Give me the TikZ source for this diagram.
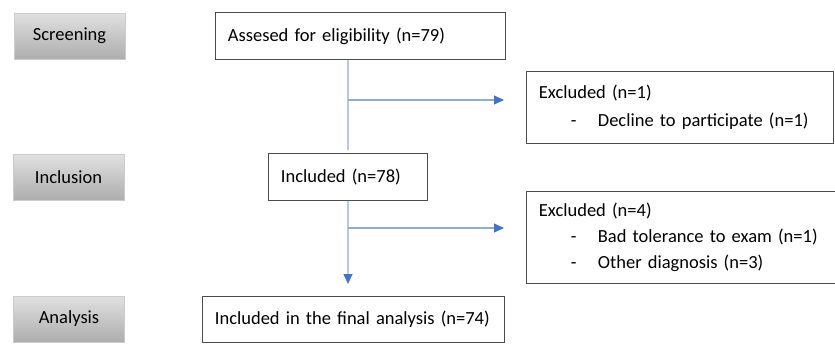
\documentclass[tikz,border=0pt]{standalone}
\usepackage{fontspec}
\setmainfont{Carlito}
\usetikzlibrary{arrows.meta}
\definecolor{linieblue}{HTML}{8FAADC}
\definecolor{tipblue}{HTML}{4472C4}
\tikzset{
    stage/.style={
           rectangle,
           draw=black!20, line width=0.6pt,
           top color=black!12, bottom color=black!32,
           minimum width=111pt,
           minimum height=46pt,
           font=\fontsize{18.5}{23}\selectfont},
    flowbox/.style={
           rectangle,
           draw=black!70, line width=0.8pt,
           inner xsep=12.5pt,
           align=left,
           font=\fontsize{18.5}{26}\selectfont},
    flowarrow/.style={
           linieblue, line width=1.2pt,
           -{Triangle[length=10pt,width=9pt,color=tipblue]}},
    flowline/.style={linieblue, line width=1.2pt}
    }
\begin{document}
\begin{tikzpicture}[x=1pt,y=-1pt]
      \useasboundingbox (0,0) rectangle (835,343);
      % stages on the left
      \node[stage] (scr) at (69.5,36) {Screening};
      \node[stage] (incl) at (68.5,177) {Inclusion};
      \node[stage] (ana) at (69,319) {Analysis};
      % flow boxes
      \node[flowbox, anchor=north west, text width=265pt, minimum height=47pt] (elig) at (215,12) {Assesed for eligibility (n=79)};
      \node[flowbox, anchor=north west, text width=134pt, minimum height=47pt] (inc) at (268,153) {Included (n=78)};
      \node[flowbox, anchor=north west, text width=277pt, minimum height=46pt] (fin) at (202,296) {Included in the final analysis (n=74)};
      \node[flowbox, anchor=north west, text width=282pt, minimum height=72pt] (exa) at (526,71)
           {Excluded (n=1)\\[2pt] \makebox[59pt][l]{\hspace{32pt}-}Decline to participate (n=1)};
      \node[flowbox, anchor=north west, text width=285pt, minimum height=92pt] (exb) at (526,191)
           {Excluded (n=4)\\ \makebox[59pt][l]{\hspace{32pt}-}Bad tolerance to exam (n=1)\\ \makebox[59pt][l]{\hspace{32pt}-}Other diagnosis (n=3)};
      % connectors
      \coordinate (t1) at (348,150);
      \coordinate (b1) at (348,100);
      \coordinate (e1) at (504,100);
      \coordinate (b2) at (348,228);
      \coordinate (e2) at (504,228);
      \coordinate (t2) at (348,284);
      \draw[flowline] (inc.north |- elig.south) -- (t1);
      \draw[flowarrow] (b1) -- (e1);
      \draw[flowarrow] (inc.south) -- (t2);
      \draw[flowarrow] (b2) -- (e2);
\end{tikzpicture}
\end{document}
